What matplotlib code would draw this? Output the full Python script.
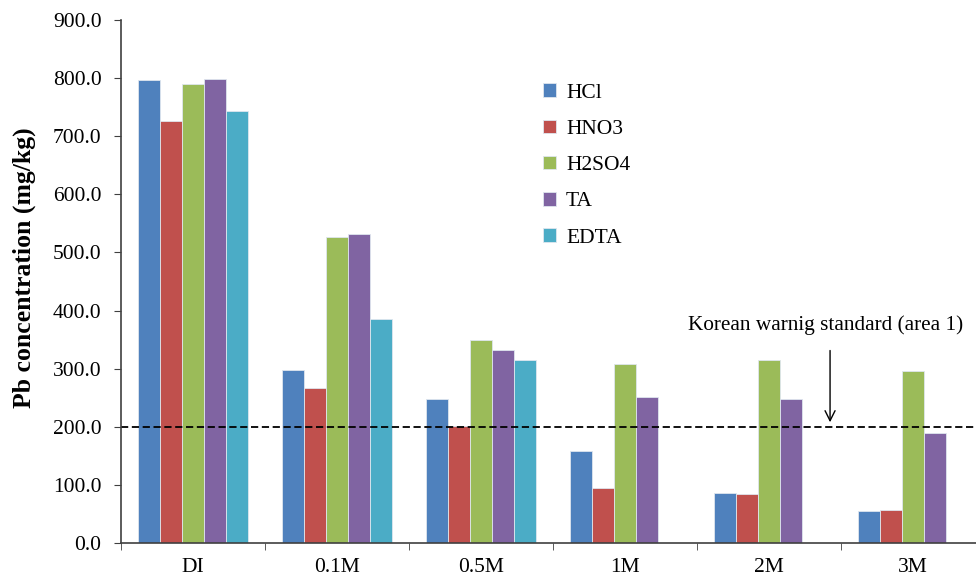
import numpy as np
import matplotlib
matplotlib.use("Agg")
import matplotlib.pyplot as plt

categories = ["DI", "0.1M", "0.5M", "1M", "2M", "3M"]
series_names = ["HCl", "HNO3", "H2SO4", "TA", "EDTA"]
hcl = [797, 298, 248, 158, 86, 55]
hno3 = [726, 267, 201, 95, 84, 57]
h2so4 = [790, 527, 349, 308, 315, 296]
ta = [798, 532, 332, 251, 248, 189]
edta = [743, 385, 315, 0, 0, 0]
standard = 200

colors = ["#4F81BD", "#C0504D", "#9BBB59", "#8064A2", "#4BACC6"]

plt.rcParams["font.family"] = ["Liberation Serif", "DejaVu Serif"]

fig = plt.figure(figsize=(9.76, 5.79), dpi=100)
ax = fig.add_axes([121 / 976, 1 - 543 / 579, 864 / 976, 523 / 579])

x = np.arange(len(categories))
w = 0.154
data = [hcl, hno3, h2so4, ta, edta]
for i, (name, vals) in enumerate(zip(series_names, data)):
    ax.bar(x + (i - 2) * w, vals, width=w, color=colors[i], label=name,
           edgecolor="#dfe6ee", linewidth=0.6)

ax.axhline(standard, color="black", linestyle=(0, (4, 2)), linewidth=1.3)

ax.annotate("", xy=(4.424, 203), xytext=(4.424, 336),
            arrowprops=dict(arrowstyle="->", color="black", lw=1.0,
                            mutation_scale=18))
ax.text(4.39, 375, "Korean warnig standard (area 1)", ha="center", va="center",
        fontsize=15.3)

ax.set_xlim(-0.5, 5.5)
ax.set_ylim(0, 900)
ax.set_yticks(np.arange(0, 901, 100))
ax.set_yticklabels([f"{v:.1f}" for v in np.arange(0, 901, 100)], fontsize=15.5)
ax.set_xticks(x)
ax.set_xticklabels(categories, fontsize=15.5)
ax.set_xticks(np.arange(-0.5, 5.6, 1), minor=True)
ax.tick_params(axis="x", which="major", length=0, pad=11)
ax.tick_params(axis="x", which="minor", length=5, direction="out", color="#404040")
ax.tick_params(axis="y", length=5, direction="out", color="#404040", pad=9)
ax.set_ylabel("Pb concentration (mg/kg)", fontsize=18.5, fontweight="bold")
ax.yaxis.set_label_coords(-0.098, 0.526)

for s in ["top", "right"]:
    ax.spines[s].set_visible(False)
for s in ["left", "bottom"]:
    ax.spines[s].set_color("#404040")
    ax.spines[s].set_linewidth(1.2)

ax.legend(loc="upper left", bbox_to_anchor=(0.4665, 0.916), frameon=False,
          fontsize=15.5, handlelength=0.6, handleheight=0.6, labelspacing=0.78,
          handletextpad=0.45)

fig.savefig("out.png", dpi=100)
